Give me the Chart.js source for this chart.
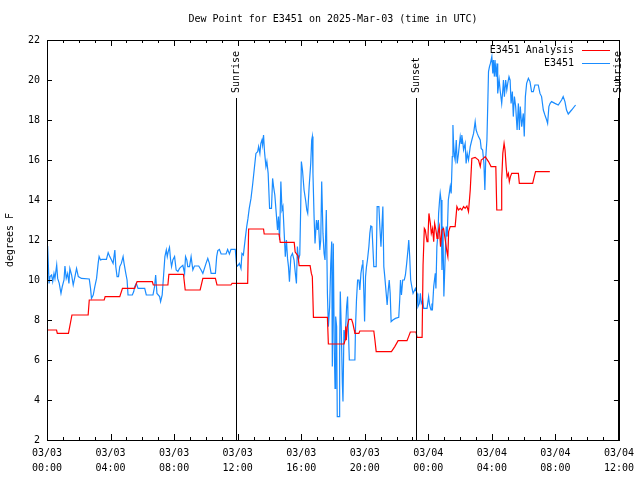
<!DOCTYPE html>
<html>
<head>
<meta charset="utf-8">
<script src="https://cdn.jsdelivr.net/npm/chart.js@4/dist/chart.umd.min.js"></script>
<style>
html,body{margin:0;padding:0;background:#fff;}
#wrap{width:640px;height:480px;position:relative;}
</style>
</head>
<body>
<div id="wrap"><canvas id="c" width="640" height="480"></canvas></div>
<script>
// ---- DATA (time = hours since 2025-03-03 00:00 UTC) ----
const chartTitle = "Dew Point for E3451 on 2025-Mar-03 (time in UTC)";
const yAxisTitle = "degrees F";
const seriesNames = ["E3451 Analysis", "E3451"];
const xTickLabels = [
  ["03/03","00:00"],["03/03","04:00"],["03/03","08:00"],["03/03","12:00"],["03/03","16:00"],
  ["03/03","20:00"],["03/04","00:00"],["03/04","04:00"],["03/04","08:00"],["03/04","12:00"]
];
const eventTimes = [11.9, 23.22, 35.97];
const eventLabels = ["Sunrise", "Sunset", "Sunrise"];

const analysisTimes = [0,0.6,0.65,1.35,1.57,2.59,2.66,3.6,3.66,4.58,4.75,5.52,5.67,6.63,6.69,7.61,7.67,8.59,8.7,9.64,9.81,10.6,10.7,11.58,11.65,12.63,12.69,13.63,13.67,14.61,14.68,15.56,15.62,15.8,15.87,16.56,16.64,16.7,16.77,17.65,17.71,18.7,18.76,18.8,18.84,18.9,19.0,19.17,19.25,19.34,19.38,19.63,19.69,20.57,20.64,20.72,21.68,21.89,22.1,22.66,22.76,22.87,23.23,23.29,23.61,23.67,23.75,23.81,23.92,23.98,24.04,24.13,24.19,24.27,24.34,24.4,24.48,24.55,24.61,24.69,24.77,24.86,24.96,25.07,25.17,25.23,25.28,25.38,25.69,25.8,25.9,26.01,26.11,26.22,26.32,26.43,26.53,26.59,26.64,26.74,26.95,27.16,27.27,27.33,27.47,27.58,27.79,27.95,28.25,28.31,28.58,28.62,28.69,28.77,28.83,28.9,28.96,29.04,29.1,29.17,29.25,29.67,29.73,30.57,30.67,30.75,31.65];
const analysisValues = [7.5,7.5,7.33,7.33,8.25,8.25,9.0,9.0,9.17,9.17,9.58,9.58,9.92,9.92,9.75,9.75,10.28,10.28,9.5,9.5,10.08,10.08,9.75,9.75,9.83,9.83,12.55,12.55,12.3,12.3,11.88,11.88,11.4,11.2,10.72,10.72,10.33,10.17,8.13,8.13,6.8,6.8,7.0,7.67,7.0,7.67,8.03,8.03,7.83,7.5,7.33,7.33,7.45,7.45,7.0,6.42,6.42,6.67,6.97,6.97,7.17,7.4,7.4,7.13,7.13,10.75,12.58,12.5,11.92,12.17,13.33,12.83,12.33,12.58,11.92,12.83,12.5,12.08,12.33,12.67,11.67,12.5,12.58,12.0,11.42,11.17,12.42,12.67,12.67,13.67,13.5,13.58,13.5,13.67,13.58,13.7,13.42,14.0,14.5,16.08,16.13,16.0,15.67,16.0,16.08,16.17,15.92,15.67,15.67,13.5,13.5,15.0,16.33,16.83,16.5,15.67,15.17,15.33,14.92,15.17,15.33,15.33,14.83,14.83,15.17,15.42,15.42];

const obsTimes = [0,0.04,0.13,0.19,0.29,0.36,0.44,0.5,0.61,0.67,0.77,0.88,0.96,1.07,1.13,1.21,1.3,1.38,1.44,1.55,1.65,1.76,1.86,1.97,2.17,2.66,2.74,2.8,2.91,3.01,3.12,3.22,3.28,3.37,3.45,3.74,3.85,3.95,4.06,4.16,4.27,4.33,4.41,4.5,4.58,4.68,4.79,4.85,4.96,5.04,5.1,5.37,5.46,5.52,5.62,5.73,6.15,6.25,6.67,6.77,6.84,6.92,7.09,7.15,7.25,7.34,7.42,7.51,7.57,7.63,7.71,7.78,7.84,7.92,8.03,8.13,8.24,8.34,8.45,8.55,8.66,8.72,8.8,8.86,8.97,9.07,9.18,9.28,9.55,9.7,9.81,10.01,10.12,10.22,10.33,10.6,10.68,10.75,10.85,10.96,11.27,11.37,11.48,11.58,11.85,11.94,12.04,12.11,12.21,12.27,12.36,12.42,12.48,12.57,12.65,12.73,12.84,12.94,13.05,13.15,13.26,13.32,13.4,13.46,13.53,13.57,13.63,13.69,13.78,13.84,13.92,14.01,14.13,14.2,14.26,14.34,14.43,14.51,14.57,14.64,14.72,14.79,14.85,14.93,15.0,15.07,15.14,15.2,15.26,15.35,15.45,15.55,15.62,15.7,15.76,15.83,15.91,15.97,16.01,16.08,16.18,16.29,16.35,16.41,16.5,16.6,16.66,16.7,16.74,16.81,16.87,16.96,17.02,17.08,17.17,17.23,17.29,17.37,17.44,17.5,17.58,17.65,17.71,17.79,17.86,17.92,17.96,18.02,18.08,18.13,18.17,18.23,18.27,18.38,18.42,18.46,18.52,18.59,18.63,18.69,18.75,18.8,18.86,18.92,18.96,19.03,19.38,19.42,19.48,19.55,19.63,19.69,19.76,19.84,19.88,19.95,19.99,20.05,20.11,20.17,20.26,20.32,20.38,20.45,20.51,20.57,20.72,20.78,20.89,20.95,21.02,21.08,21.14,21.2,21.26,21.35,21.41,21.48,21.54,21.6,21.66,21.77,21.93,22.14,22.2,22.25,22.31,22.39,22.49,22.56,22.64,22.72,22.77,22.83,22.89,22.98,23.04,23.19,23.29,23.35,23.44,23.5,23.56,23.65,23.71,23.92,24.02,24.08,24.17,24.23,24.27,24.34,24.44,24.48,24.54,24.61,24.65,24.71,24.75,24.8,24.86,24.92,24.98,25.07,25.13,25.19,25.26,25.32,25.38,25.44,25.51,25.55,25.59,25.65,25.69,25.76,25.82,25.9,26.01,26.07,26.11,26.18,26.22,26.32,26.38,26.45,26.53,26.64,26.74,26.85,26.95,27.01,27.08,27.16,27.27,27.33,27.42,27.5,27.56,27.62,27.69,27.75,27.79,27.85,27.91,28.0,28.06,28.1,28.16,28.2,28.27,28.33,28.37,28.46,28.52,28.62,28.69,28.73,28.79,28.87,28.94,29.0,29.08,29.15,29.21,29.29,29.35,29.42,29.5,29.59,29.67,29.73,29.79,29.88,29.98,30.04,30.11,30.19,30.3,30.4,30.5,30.61,30.71,30.92,31.03,31.13,31.24,31.34,31.45,31.51,31.59,31.67,31.76,31.97,32.18,32.39,32.49,32.6,32.7,32.81,33.02,33.27];
const obsValues = [10.33,11.7,9.83,10.17,10.25,9.92,10.33,10.08,10.75,10.08,9.83,9.33,9.67,10.0,10.7,10.08,10.33,9.83,10.58,10.25,9.75,10.17,10.58,10.17,10.08,10.05,9.58,9.08,9.25,9.67,10.08,10.83,11.17,11.0,11.03,11.03,11.37,11.17,11.0,10.83,11.5,10.67,10.17,10.17,10.67,10.83,11.17,10.83,10.33,10.0,9.25,9.25,9.42,9.67,9.83,9.58,9.58,9.25,9.25,9.67,10.25,9.33,9.17,8.92,9.25,10.25,11.17,11.5,11.17,11.42,11.63,11.0,10.67,11.0,11.17,10.5,10.42,10.58,10.67,10.73,10.33,11.17,11.0,10.67,10.67,11.17,10.5,10.7,10.7,10.5,10.33,10.83,11.08,10.83,10.33,10.33,11.17,11.47,11.53,11.3,11.3,11.53,11.3,11.53,11.53,10.67,10.75,10.83,10.58,11.33,11.25,11.67,12.08,12.67,13.08,13.58,14.08,14.75,15.58,16.33,16.42,16.67,16.33,16.83,17.0,16.75,17.25,16.42,15.67,15.92,15.33,13.58,13.58,15.08,14.67,14.25,13.33,12.5,13.17,12.0,14.92,13.5,13.67,12.33,11.17,12.0,11.08,10.67,9.92,11.17,11.33,11.0,10.42,9.83,11.67,11.0,11.25,13.67,15.92,15.5,14.5,13.92,13.5,13.33,14.67,15.83,17.0,17.17,15.33,13.17,11.83,13.0,12.5,13.0,11.5,12.0,14.92,12.33,11.33,11.0,13.5,9.33,7.67,8.67,10.83,11.92,5.67,11.83,6.67,4.58,8.17,7.67,3.17,3.17,6.33,9.42,7.67,4.83,3.92,7.5,7.0,7.67,8.67,9.17,7.67,6.0,6.0,7.67,9.0,10.0,10.0,9.5,10.33,10.75,11.0,9.17,7.92,10.17,10.67,11.0,11.67,12.33,12.7,12.67,11.67,10.67,10.67,13.67,13.67,12.67,11.67,12.67,13.67,10.67,10.17,9.33,8.75,9.5,10.0,9.33,7.92,8.0,8.08,8.13,9.0,10.0,9.25,10.0,10.0,10.25,10.83,11.5,12.0,11.17,10.0,9.58,9.33,9.58,9.33,8.67,8.83,9.33,8.83,9.0,8.58,8.58,9.17,8.75,8.5,8.83,8.67,9.67,10.33,9.58,11.67,12.33,13.33,14.0,14.33,14.0,10.5,12.67,9.17,11.33,12.67,12.17,14.0,14.33,14.67,14.33,16.17,17.75,16.83,16.17,16.0,17.0,15.83,16.33,17.17,16.83,17.25,16.83,16.5,16.83,15.83,16.33,16.0,16.67,17.0,17.33,17.92,17.5,17.33,17.17,17.0,16.58,16.5,15.83,14.5,16.17,17.0,19.0,20.42,20.67,20.83,21.17,20.33,21.0,20.17,21.0,20.17,20.83,19.33,20.0,19.5,18.83,19.5,20.0,19.17,20.0,19.5,19.83,20.17,20.0,18.83,19.42,18.17,19.17,18.67,17.5,18.83,17.5,18.67,17.67,18.33,17.17,19.17,19.83,20.08,19.92,19.42,19.42,19.75,19.75,19.33,19.17,18.5,18.25,18.0,17.83,18.67,18.83,18.92,18.83,18.75,19.0,19.17,18.92,18.5,18.3,18.5,18.75];

const FONT = "DejaVu Sans Mono";
Chart.defaults.font.family = FONT;
Chart.defaults.font.size = 10;
Chart.defaults.color = "#000";

function pts(ts, vs){ return ts.map((t,i)=>({x:t, y:vs[i]})); }

const decor = {
  id: 'decor',
  afterDatasetsDraw(chart){
    const ctx = chart.ctx, a = chart.chartArea;
    const xs = chart.scales.x, ys = chart.scales.y;
    ctx.save();
    ctx.strokeStyle = '#000'; ctx.lineWidth = 1;
    ctx.font = "10px " + FONT;
    eventTimes.forEach((t,i)=>{
      const px = Math.min(Math.round(xs.getPixelForValue(t)), Math.round(a.right)) + 0.5;
      ctx.beginPath(); ctx.moveTo(px, 98); ctx.lineTo(px, a.bottom); ctx.stroke();
      ctx.save(); ctx.translate(px, 93); ctx.rotate(-Math.PI/2);
      ctx.fillStyle = '#000'; ctx.textAlign = 'left'; ctx.textBaseline = 'middle';
      ctx.fillText(eventLabels[i], 0, 0); ctx.restore();
    });
    ctx.strokeRect(Math.round(a.left)+0.5, Math.round(a.top)+0.5, Math.round(a.right-a.left), Math.round(a.bottom-a.top));
    ctx.beginPath();
    for (let h = 0; h <= 36; h++){
      const px = Math.round(xs.getPixelForValue(h)) + 0.5;
      const L = (h % 4 === 0) ? 6 : 3;
      ctx.moveTo(px, a.bottom); ctx.lineTo(px, a.bottom - L);
      ctx.moveTo(px, a.top); ctx.lineTo(px, a.top + L);
    }
    for (let v = 2; v <= 22; v += 2){
      const py = Math.round(ys.getPixelForValue(v)) + 0.5;
      ctx.moveTo(a.left, py); ctx.lineTo(a.left + 5, py);
      ctx.moveTo(a.right, py); ctx.lineTo(a.right - 5, py);
    }
    ctx.stroke();
    ctx.textAlign = 'right'; ctx.textBaseline = 'middle'; ctx.fillStyle = '#000';
    chart.data.datasets.forEach((ds,i)=>{
      const y = 50 + i*13;
      ctx.fillText(ds.label, 574, y);
      ctx.strokeStyle = ds.borderColor;
      ctx.beginPath(); ctx.moveTo(582, y+0.5); ctx.lineTo(610, y+0.5); ctx.stroke();
    });
    ctx.fillStyle = '#000'; ctx.textAlign = 'center'; ctx.textBaseline = 'middle';
    ctx.fillText(chartTitle, (a.left + a.right)/2, 19);
    ctx.save(); ctx.translate(10, 240); ctx.rotate(-Math.PI/2);
    ctx.fillText(yAxisTitle, 0, 0); ctx.restore();
    ctx.restore();
  }
};

new Chart(document.getElementById('c'), {
  type: 'line',
  data: {
    datasets: [
      { label: seriesNames[0], data: pts(analysisTimes, analysisValues), borderColor: '#ff0000', borderWidth: 1.2, pointRadius: 0, tension: 0, fill: false },
      { label: seriesNames[1], data: pts(obsTimes, obsValues), borderColor: '#1a8cff', borderWidth: 1.2, pointRadius: 0, tension: 0, fill: false }
    ]
  },
  options: {
    responsive: false,
    animation: false,
    events: [],
    layout: { padding: { top: 40, right: 19, left: 0, bottom: 0 } },
    plugins: { legend: { display: false }, title: { display: false }, tooltip: { enabled: false } },
    scales: {
      x: {
        type: 'linear', min: 0, max: 36,
        grid: { display: false, drawTicks: false },
        border: { display: false },
        ticks: {
          stepSize: 4, autoSkip: false, maxRotation: 0, minRotation: 0, padding: 6,
          font: { size: 10, lineHeight: 1.5 },
          callback: (v, i) => xTickLabels[i]
        },
        afterFit: s => { s.height = 40; }
      },
      y: {
        min: 2, max: 22,
        grid: { display: false, drawTicks: false },
        border: { display: false },
        ticks: { stepSize: 2, padding: 7, font: { size: 10 } },
        afterFit: s => { s.width = 47; }
      }
    }
  },
  plugins: [decor]
});
</script>
</body>
</html>
